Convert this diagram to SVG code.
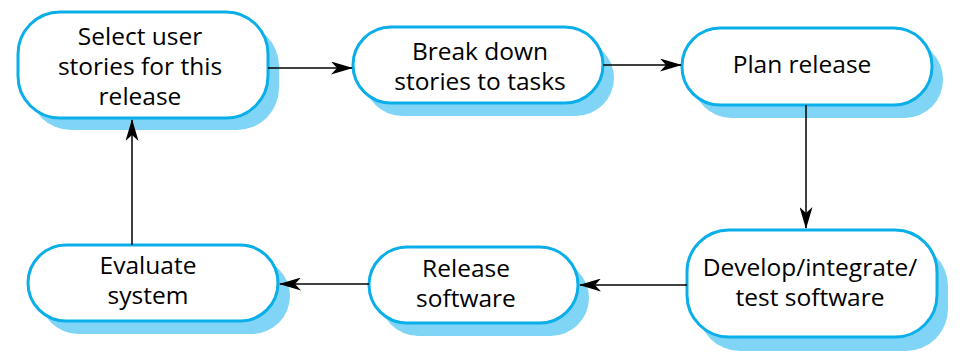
<svg xmlns="http://www.w3.org/2000/svg" width="964" height="360" viewBox="0 0 964 360">
  <style>
    .shadow { fill: #80d5f6; }
    .box { fill: #ffffff; stroke: #0aaee8; stroke-width: 3; }
    .label { font-family: "Open Sans", "Noto Sans", sans-serif; font-size: 24.5px; fill: #000000; text-anchor: middle; }
    .link { stroke: #000000; stroke-width: 1.5; fill: none; marker-end: url(#arrow); }
  </style>
  <defs>
    <marker id="arrow" viewBox="0 0 22 13" refX="21" refY="6.5" markerWidth="22" markerHeight="13" markerUnits="userSpaceOnUse" orient="auto">
      <path d="M0,0 L22,6.5 L0,13 L6,6.5 Z" fill="#000000"/>
    </marker>
  </defs>

  <g id="select-stories">
    <rect class="shadow" x="29" y="24" width="250" height="106" rx="42"/>
    <rect class="box" x="18" y="12" width="250" height="106" rx="42"/>
    <text class="label" x="140" y="45">Select user</text>
    <text class="label" x="140" y="75">stories for this</text>
    <text class="label" x="140" y="105">release</text>
  </g>

  <g id="break-down">
    <rect class="shadow" x="364" y="40" width="250" height="76" rx="38"/>
    <rect class="box" x="353" y="27" width="250" height="76" rx="38"/>
    <text class="label" x="480" y="60">Break down</text>
    <text class="label" x="480" y="90">stories to tasks</text>
  </g>

  <g id="plan-release">
    <rect class="shadow" x="693" y="41" width="250" height="77" rx="38"/>
    <rect class="box" x="682" y="28" width="250" height="77" rx="38"/>
    <text class="label" x="802" y="73">Plan release</text>
  </g>

  <g id="develop">
    <rect class="shadow" x="698" y="244" width="250" height="107" rx="42"/>
    <rect class="box" x="687" y="230" width="250" height="107" rx="42"/>
    <text class="label" x="810" y="276">Develop/integrate/</text>
    <text class="label" x="810" y="306">test software</text>
  </g>

  <g id="release-software">
    <rect class="shadow" x="380" y="260" width="209" height="76" rx="38"/>
    <rect class="box" x="369" y="247" width="209" height="76" rx="38"/>
    <text class="label" x="466" y="277">Release</text>
    <text class="label" x="466" y="307">software</text>
  </g>

  <g id="evaluate">
    <rect class="shadow" x="40" y="258" width="250" height="76" rx="38"/>
    <rect class="box" x="28" y="245" width="250" height="76" rx="38"/>
    <text class="label" x="148" y="274">Evaluate</text>
    <text class="label" x="148" y="304">system</text>
  </g>

  <g id="connectors">
    <line class="link" x1="268" y1="68" x2="352" y2="68"/>
    <line class="link" x1="603" y1="65" x2="681" y2="65"/>
    <line class="link" x1="806" y1="105" x2="806" y2="228"/>
    <line class="link" x1="687" y1="285" x2="580" y2="285"/>
    <line class="link" x1="369" y1="284" x2="280" y2="284"/>
    <line class="link" x1="132" y1="245" x2="132" y2="120"/>
  </g>
</svg>
